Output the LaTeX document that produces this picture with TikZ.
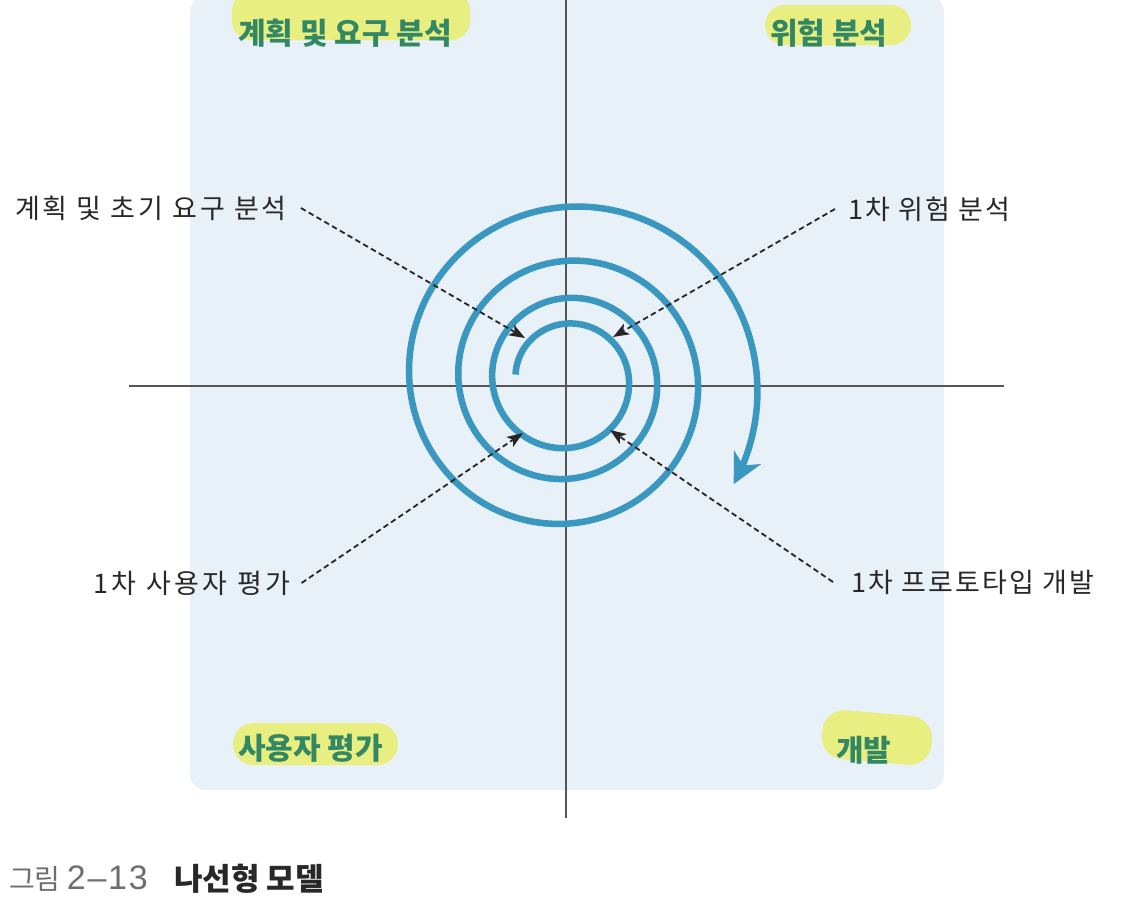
\documentclass[tikz,border=0pt]{standalone}
\usepackage{fontspec}
\newfontfamily\kr{Noto Sans CJK KR}
\newfontfamily\krl[LetterSpace=8]{Noto Sans CJK KR}
\newfontfamily\krlw[LetterSpace=11]{Noto Sans CJK KR}
\newfontfamily\krlx[LetterSpace=13]{Noto Sans CJK KR}
\newfontfamily\capnum[LetterSpace=5]{Liberation Sans}
\usetikzlibrary{arrows.meta}
\definecolor{panel}{RGB}{232,240,248}
\definecolor{spiralc}{RGB}{58,152,192}
\definecolor{hl}{RGB}{232,238,128}
\definecolor{hdr}{RGB}{50,135,100}
\definecolor{axisc}{RGB}{85,85,85}
\definecolor{lbl}{RGB}{40,40,40}
\definecolor{capg}{RGB}{110,110,110}
\tikzset{
  lab/.style={anchor=west, inner sep=0pt, text=lbl, font=\krl\fontsize{27}{30}\selectfont},
  hdrs/.style={anchor=west, inner sep=0pt, text=hdr, font=\kr\bfseries\fontsize{30}{32}\selectfont},
  leader/.style={dash pattern=on 5.5pt off 3.5pt, line width=1.8pt, black!85,
    -{Stealth[length=16pt,width=12pt,inset=4pt]}},
  axisline/.style={axisc, line width=1.5pt},
  blob/.style={fill=hl}
}
\begin{document}
\begin{tikzpicture}[x=1pt, y=-1pt]
\useasboundingbox (0,0) rectangle (1124,913);
% panel
\fill[panel, rounded corners=16pt] (190,-4) rectangle (944,790);
% highlights
\fill[blob, rounded corners=19pt] (232,-8) rectangle (470,40);
\fill[blob, rounded corners=20pt] (765,5) rectangle (911,45);
\fill[blob, rounded corners=21pt] (233,723) rectangle (398,765);
\fill[blob, rounded corners=22pt, rotate around={-5:(877,737)}] (822,713) rectangle (932,762);
% axes
\draw[axisline] (566,0) -- (566,818);
\draw[axisline] (129,386) -- (1004,386);
% spiral
\begin{scope}[shift={(567,380)}]
\draw[spiralc, line width=6.5pt, -{Stealth[length=30pt,width=30pt,inset=9pt]}]
  plot[domain=-174:1112, samples=260, smooth, variable=\t] (\t:{62*exp(0.001042*\t)});
\end{scope}
% arrow tips
\coordinate (t1) at (525,338);
\coordinate (t2) at (613,337);
\coordinate (t3) at (523,433);
\coordinate (t4) at (610,430);
% labels
\node[lab, font=\krlw\fontsize{27}{30}\selectfont] (l1) at (15,208) {계획 및 초기 요구 분석};
\node[lab] (l2) at (848,209) {1차 위험 분석};
\node[lab, font=\krlx\fontsize{27}{30}\selectfont] (l3) at (93,583) {1차 사용자 평가};
\node[lab] (l4) at (851,582) {1차 프로토타입 개발};
\draw[leader] ([xshift=14pt]l1.east) -- (t1);
\draw[leader] ([xshift=-13pt]l2.west) -- (t2);
\draw[leader] ([xshift=11pt]l3.east) -- (t3);
\draw[leader] ([xshift=-18pt]l4.west) -- (t4);
% headers
\node[hdrs] (h1) at (238,33) {계획 및 요구 분석};
\node[hdrs] (h2) at (770,33) {위험 분석};
\node[hdrs] (h3) at (238,748) {사용자 평가};
\node[hdrs] (h4) at (836,750) {개발};
% caption
\node[anchor=west, inner sep=0pt, text=capg, font=\kr\fontsize{28}{30}\selectfont] (c1) at (9,879) {그림 {\capnum\fontsize{34}{35}\selectfont 2–13}};
\node[anchor=west, inner sep=0pt, text=lbl, font=\kr\bfseries\fontsize{31}{33}\selectfont] (c2) at (174,879) {나선형 모델};
\end{tikzpicture}
\end{document}
